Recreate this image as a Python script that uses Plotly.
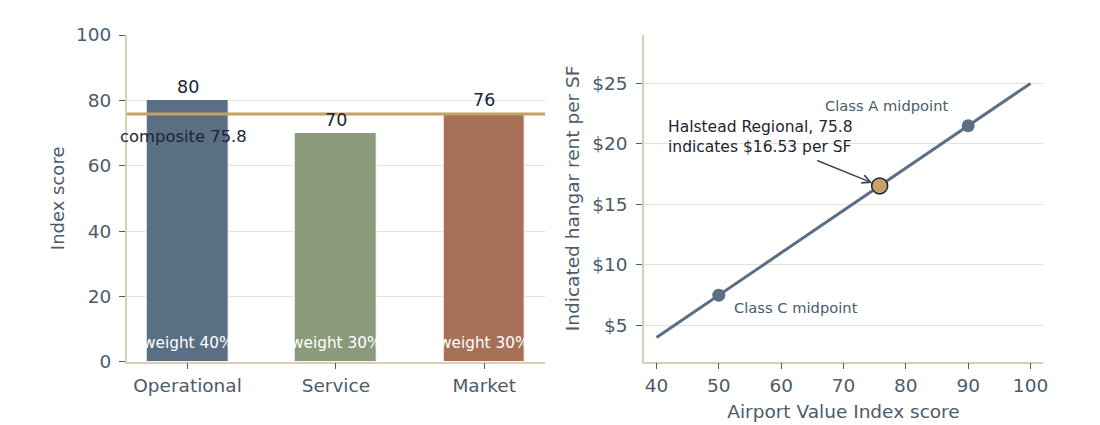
import plotly.graph_objects as go
from plotly.subplots import make_subplots

# Left panel: component scores
categories = ["Operational", "Service", "Market"]
scores = [80, 70, 76]
weights = [40, 30, 30]
bar_colors = ["#5b6f84", "#8a9a7a", "#a87157"]
composite = 75.8

# Right panel: rent line and anchor points
line_x = [40, 100]
line_y = [4, 25]
class_x = [50, 90]
class_y = [7.5, 21.5]
class_names = ["Class C midpoint", "Class A midpoint"]
subject_name = "Halstead Regional"
subject_score = 75.8
subject_rent = 16.53
rent_ticks = [5, 10, 15, 20, 25]
rent_tick_labels = ["$5", "$10", "$15", "$20", "$25"]

FONT = "DejaVu Sans"
INK = "#4b5b6b"
DARK = "#1c2533"
SPINE = "#dacfb6"
GRID = "#e8e2d5"
GOLD = "#c4a263"
SLATE = "#5b6f84"

# page body adds an 8px offset, so plot areas are placed 8px up/left
OFF = 8
W, H = 1100, 425

fig = make_subplots(rows=1, cols=2)

fig.add_trace(go.Bar(
    x=categories, y=scores, width=0.55,
    marker=dict(color=bar_colors, line=dict(color="white", width=1)),
    showlegend=False, hoverinfo="skip"), row=1, col=1)

# Value labels above bars and weight labels at the base
for cat, s, w in zip(categories, scores, weights):
    fig.add_annotation(x=cat, y=s, text=str(s), showarrow=False, xref="x", yref="y",
                       yanchor="bottom", yshift=1, font=dict(size=17.5, color=DARK, family=FONT))
    fig.add_annotation(x=cat, y=5.8, text=f"weight {w}%", showarrow=False, xref="x", yref="y",
                       yanchor="middle", font=dict(size=15.3, color="white", family=FONT))

# Composite line
fig.add_shape(type="line", xref="x domain", yref="y", x0=0, x1=1, y0=composite, y1=composite,
              line=dict(color=GOLD, width=3), layer="above")
fig.add_annotation(x=0, y=69, text=f"composite {composite}", showarrow=False,
                   xref="x domain", yref="y", xanchor="left", yanchor="middle", xshift=-9,
                   font=dict(size=16.4, color=DARK, family=FONT))

# Right panel traces
fig.add_trace(go.Scatter(x=line_x, y=line_y, mode="lines", line=dict(color=SLATE, width=3),
                         showlegend=False, hoverinfo="skip"), row=1, col=2)
fig.add_trace(go.Scatter(x=class_x, y=class_y, mode="markers",
                         marker=dict(color=SLATE, size=13),
                         showlegend=False, hoverinfo="skip"), row=1, col=2)
fig.add_trace(go.Scatter(x=[subject_score], y=[subject_rent], mode="markers",
                         marker=dict(color=GOLD, size=16, line=dict(color=DARK, width=1.5)),
                         showlegend=False, hoverinfo="skip"), row=1, col=2)

fig.add_annotation(x=52.1, y=6.5, text=class_names[0], showarrow=False, xref="x2", yref="y2",
                   xanchor="left", yanchor="middle", font=dict(size=14.7, color=INK, family=FONT))
fig.add_annotation(x=76.9, y=23.15, text=class_names[1], showarrow=False, xref="x2", yref="y2",
                   xanchor="center", yanchor="middle", font=dict(size=14.7, color=INK, family=FONT))

fig.add_annotation(x=subject_score, y=subject_rent, xref="x2", yref="y2", text="",
                   showarrow=True, ax=-64, ay=-26, arrowhead=5, arrowsize=1.1, arrowwidth=1.5,
                   arrowcolor="#3b4756", standoff=8)
fig.add_annotation(x=41.55, y=20.6, xref="x2", yref="y2",
                   text=f"{subject_name}, {subject_score}<br>indicates ${subject_rent:.2f} per SF",
                   showarrow=False, xanchor="left", yanchor="middle", align="left",
                   font=dict(size=15.5, color=DARK, family=FONT))

axis_common = dict(showline=True, linecolor=SPINE, linewidth=1.5, ticks="outside",
                   ticklen=6, tickwidth=1.2, tickcolor=INK, mirror=False, zeroline=False,
                   automargin=False, tickfont=dict(size=18.5, color=INK, family=FONT))

fig.update_xaxes(axis_common)
fig.update_yaxes(axis_common)

y_dom = [1 - (361.7 - OFF) / H, 1 - (35 - OFF) / H]

fig.update_xaxes(domain=[(126.7 - OFF) / W, (545 - OFF) / W], range=[-0.41, 2.41],
                 showgrid=False, row=1, col=1)
fig.update_yaxes(domain=y_dom, range=[0, 100], dtick=20, ticklabelstandoff=4,
                 showgrid=True, gridcolor=GRID, gridwidth=1,
                 title=dict(text="Index score", standoff=7, font=dict(size=18, color=INK, family=FONT)),
                 row=1, col=1)
fig.update_xaxes(domain=[(644 - OFF) / W, (1043 - OFF) / W], range=[38, 102], dtick=10,
                 showgrid=False,
                 title=dict(text="Airport Value Index score", standoff=10,
                            font=dict(size=18.5, color=INK, family=FONT)),
                 row=1, col=2)
fig.update_yaxes(domain=y_dom, range=[2, 29], ticklabelstandoff=5,
                 tickmode="array", tickvals=rent_ticks, ticktext=rent_tick_labels,
                 showgrid=True, gridcolor=GRID, gridwidth=1,
                 title=dict(text="Indicated hangar rent per SF", standoff=8,
                            font=dict(size=18.5, color=INK, family=FONT)),
                 row=1, col=2)

fig.update_layout(width=W, height=H, margin=dict(l=0, r=0, t=0, b=0),
                  plot_bgcolor="white", paper_bgcolor="white",
                  font=dict(family=FONT, color=INK), bargap=0)

fig.write_html("out.html")
